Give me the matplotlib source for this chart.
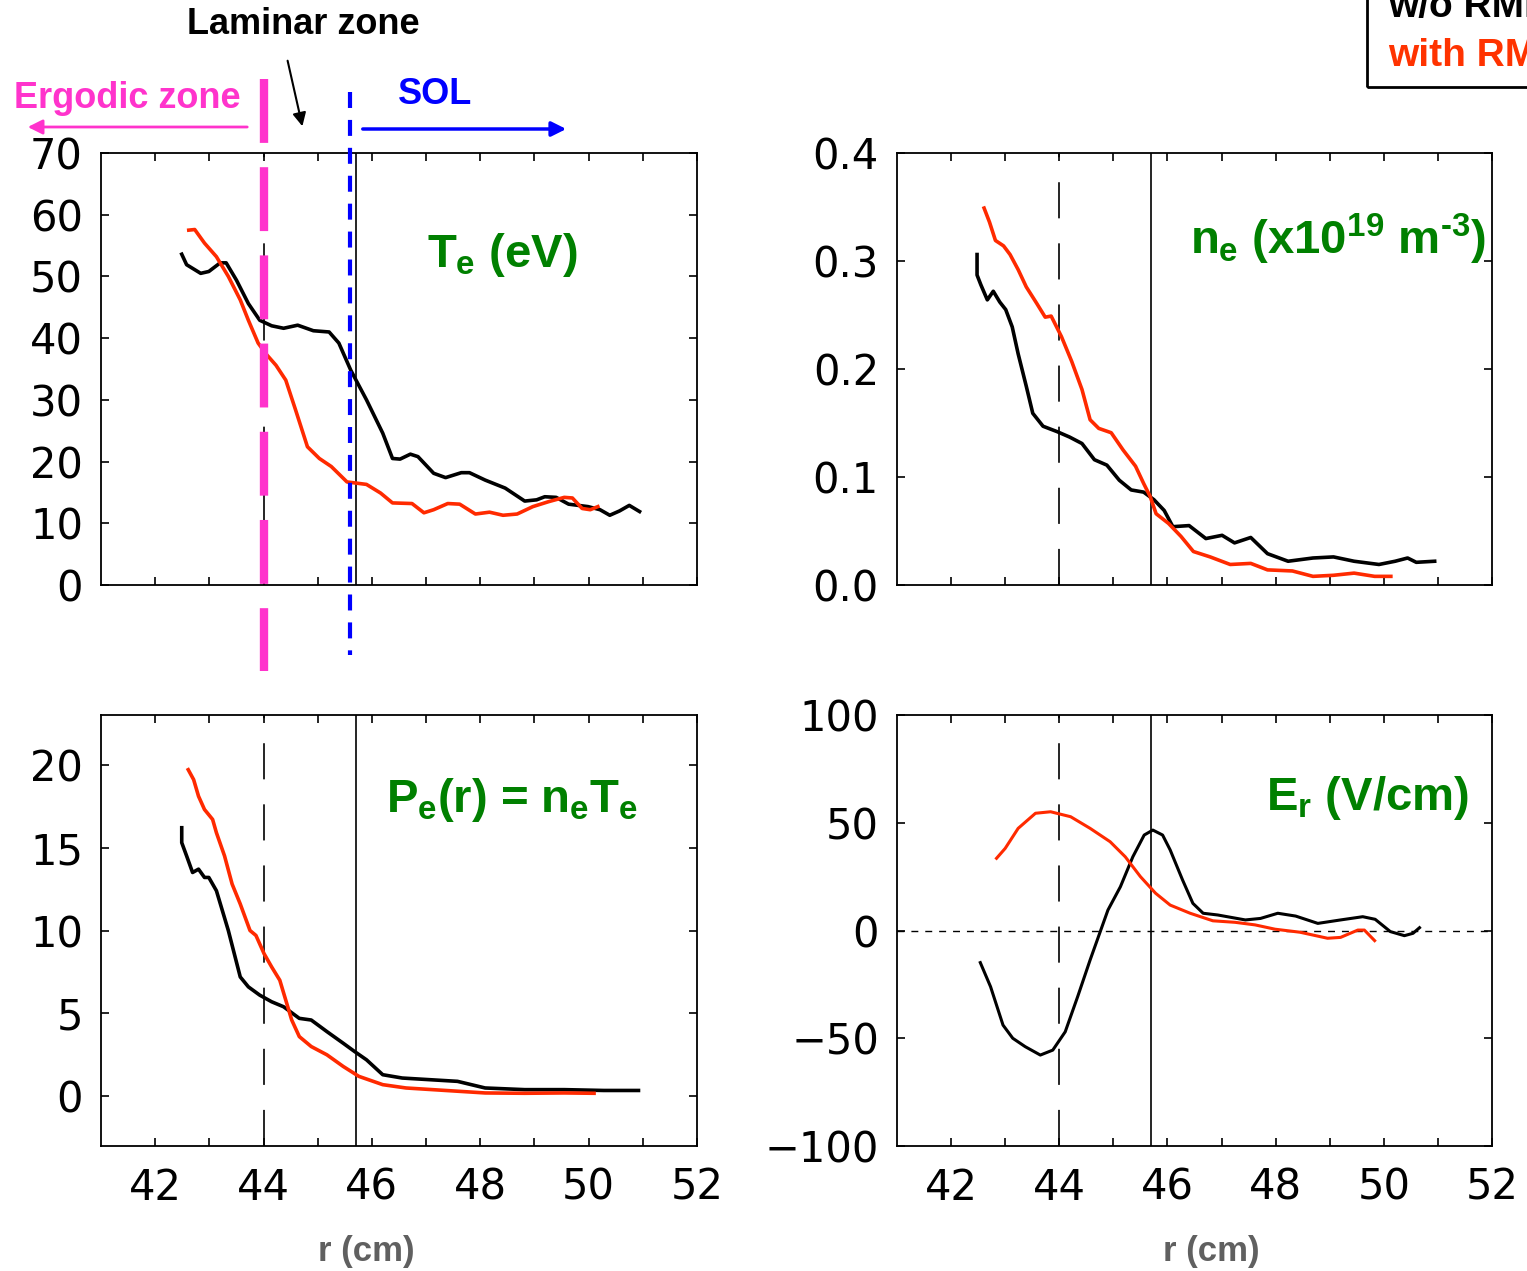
import matplotlib.pyplot as plt
import matplotlib.transforms as mtransforms
from matplotlib.lines import Line2D
from matplotlib.patches import Rectangle, FancyArrowPatch

plt.rcParams['font.family'] = ['DejaVu Sans']
plt.rcParams['mathtext.fontset'] = 'custom'
plt.rcParams['mathtext.rm'] = 'Liberation Sans:bold'
plt.rcParams['mathtext.it'] = 'Liberation Sans:bold'
plt.rcParams['mathtext.bf'] = 'Liberation Sans:bold'
plt.rcParams['lines.scale_dashes'] = False

# radial positions of the zone boundaries (cm)
ergodic_edge = 44.0
separatrix = 45.7
sol_edge = 45.6

# electron temperature (eV)
te_r_wo = [42.49, 42.58, 42.84, 42.99, 43.20, 43.31, 43.50, 43.72, 43.93, 44.15, 44.37, 44.63,
           44.92, 45.21, 45.39, 45.61, 45.90, 46.20, 46.38, 46.52, 46.71, 46.85, 47.14, 47.36,
           47.65, 47.80, 48.09, 48.46, 48.82, 49.04, 49.19, 49.40, 49.63, 49.99, 50.21, 50.39,
           50.57, 50.75, 50.94]
te_wo = [53.6, 51.9, 50.5, 50.8, 52.2, 52.2, 49.4, 45.6, 42.9, 42.0, 41.6, 42.1,
         41.2, 41.0, 39.2, 34.8, 30.0, 24.6, 20.5, 20.4, 21.2, 20.8, 18.1, 17.4,
         18.2, 18.2, 17.0, 15.7, 13.6, 13.8, 14.3, 14.2, 13.1, 12.7, 12.2, 11.3,
         12.0, 12.9, 11.9]
te_r_with = [42.62, 42.73, 42.91, 43.13, 43.35, 43.57, 43.72, 43.90, 44.04, 44.23, 44.41, 44.59,
             44.81, 45.03, 45.25, 45.54, 45.90, 46.16, 46.38, 46.74, 46.96, 47.14, 47.40, 47.62,
             47.91, 48.17, 48.42, 48.68, 48.97, 49.26, 49.55, 49.70, 49.88, 50.03, 50.17]
te_with = [57.5, 57.6, 55.4, 53.2, 50.0, 46.2, 42.9, 39.2, 37.5, 35.6, 33.2, 28.4,
           22.4, 20.5, 19.2, 16.7, 16.3, 14.9, 13.3, 13.2, 11.7, 12.2, 13.2, 13.1,
           11.5, 11.8, 11.3, 11.5, 12.7, 13.5, 14.2, 14.1, 12.4, 12.2, 12.7]

# electron density (1e19 m^-3)
ne_r_wo = [42.48, 42.48, 42.55, 42.67, 42.78, 42.90, 43.01, 43.13, 43.24, 43.39, 43.51, 43.70,
           43.96, 44.19, 44.42, 44.65, 44.88, 45.11, 45.33, 45.56, 45.75, 45.94, 46.10, 46.40,
           46.71, 47.01, 47.24, 47.54, 47.85, 48.23, 48.69, 49.07, 49.45, 49.91, 50.21, 50.44,
           50.60, 50.94]
ne_wo = [0.306, 0.287, 0.278, 0.264, 0.272, 0.262, 0.255, 0.239, 0.214, 0.184, 0.159, 0.147,
         0.142, 0.137, 0.131, 0.116, 0.111, 0.097, 0.088, 0.086, 0.079, 0.069, 0.054, 0.055,
         0.043, 0.046, 0.039, 0.044, 0.029, 0.022, 0.025, 0.026, 0.022, 0.019, 0.022, 0.025,
         0.021, 0.022]
ne_r_with = [42.61, 42.71, 42.82, 42.97, 43.09, 43.24, 43.39, 43.58, 43.74, 43.85, 44.04, 44.23,
             44.42, 44.57, 44.73, 44.96, 45.18, 45.41, 45.56, 45.68, 45.79, 46.02, 46.25, 46.48,
             46.79, 47.16, 47.54, 47.85, 48.31, 48.69, 49.07, 49.45, 49.83, 50.13]
ne_with = [0.349, 0.336, 0.319, 0.314, 0.306, 0.292, 0.276, 0.261, 0.248, 0.249, 0.230, 0.207,
           0.181, 0.153, 0.145, 0.141, 0.125, 0.110, 0.094, 0.082, 0.066, 0.057, 0.045, 0.031,
           0.026, 0.019, 0.020, 0.014, 0.013, 0.008, 0.009, 0.011, 0.008, 0.008]

# electron pressure
pe_r_wo = [42.49, 42.49, 42.58, 42.69, 42.80, 42.91, 42.99, 43.13, 43.24, 43.35, 43.46, 43.57,
           43.72, 43.93, 44.15, 44.37, 44.66, 44.88, 45.17, 45.47, 45.68, 45.90, 46.20, 46.56,
           47.07, 47.58, 48.09, 48.82, 49.55, 50.28, 50.92]
pe_wo = [16.2, 15.3, 14.5, 13.5, 13.7, 13.2, 13.2, 12.4, 11.2, 10.0, 8.6, 7.2,
         6.6, 6.1, 5.7, 5.4, 4.7, 4.6, 3.9, 3.2, 2.7, 2.2, 1.3, 1.1,
         1.0, 0.9, 0.5, 0.4, 0.4, 0.35, 0.35]
pe_r_with = [42.61, 42.71, 42.80, 42.91, 43.06, 43.13, 43.28, 43.42, 43.57, 43.75, 43.86, 44.01,
             44.15, 44.30, 44.41, 44.52, 44.66, 44.88, 45.17, 45.47, 45.76, 46.20, 46.63, 47.36,
             48.09, 48.82, 49.55, 50.10]
pe_with = [19.7, 19.1, 18.1, 17.3, 16.7, 15.9, 14.5, 12.8, 11.6, 10.0, 9.7, 8.6,
           7.8, 7.0, 5.8, 4.6, 3.6, 3.0, 2.5, 1.8, 1.2, 0.7, 0.5, 0.35,
           0.2, 0.18, 0.2, 0.18]

# radial electric field (V/cm)
er_r_wo = [42.54, 42.73, 42.96, 43.14, 43.37, 43.65, 43.88, 44.11, 44.34, 44.57, 44.90, 45.13,
           45.36, 45.57, 45.73, 45.91, 46.05, 46.28, 46.47, 46.66, 46.93, 47.44, 47.72, 48.04,
           48.37, 48.78, 49.20, 49.61, 49.84, 50.12, 50.38, 50.54, 50.66]
er_wo = [-14.9, -26.1, -43.9, -50.0, -53.9, -57.8, -55.5, -47.0, -30.7, -13.7, 9.5, 20.3,
         34.2, 44.3, 46.6, 44.3, 37.4, 23.4, 12.6, 8.0, 7.2, 4.9, 5.6, 8.0,
         6.7, 3.3, 4.9, 6.4, 5.2, -0.5, -2.4, -1.3, 1.3]
er_r_with = [42.84, 43.00, 43.24, 43.56, 43.84, 44.21, 44.57, 44.94, 45.22, 45.50, 45.78, 46.05,
             46.42, 46.84, 47.25, 47.62, 47.99, 48.45, 48.96, 49.20, 49.52, 49.64, 49.83]
er_with = [33.5, 38.1, 47.4, 54.4, 55.1, 52.8, 47.4, 41.2, 34.2, 25.0, 17.3, 11.8,
           8.0, 4.5, 3.8, 2.6, 0.6, -0.8, -3.6, -3.2, 0.2, 0.2, -4.7]

W, H = 1527, 1271
GREEN = '#008000'
RED = '#ff2a00'
MAGENTA = '#ff33cc'

fig = plt.figure(figsize=(W / 100, H / 100), dpi=100)
ax_te = fig.add_axes([101 / W, 1 - 585 / H, 596 / W, 432 / H])
ax_ne = fig.add_axes([897 / W, 1 - 585 / H, 595 / W, 432 / H])
ax_pe = fig.add_axes([101 / W, 1 - 1146 / H, 596 / W, 431 / H])
ax_er = fig.add_axes([897 / W, 1 - 1146 / H, 595 / W, 431 / H])


def style(ax, ylim, yticks, ylabels, show_x):
    ax.set_xlim(41, 52)
    ax.set_ylim(*ylim)
    ax.set_xticks(range(42, 53, 2))
    ax.set_xticks(range(43, 52, 2), minor=True)
    ax.set_yticks(yticks)
    ax.set_yticklabels(ylabels)
    ax.tick_params(which='both', direction='in', top=True, right=True,
                   length=6, width=1.2, labelsize=30)
    ax.tick_params(axis='y', pad=13)
    ax.tick_params(axis='x', pad=15)
    if not show_x:
        ax.set_xticklabels([])
    for s in ax.spines.values():
        s.set_linewidth(1.3)
    ax.axvline(ergodic_edge, color='k', lw=1.2, dashes=(26, 18))
    ax.axvline(separatrix, color='k', lw=1.2)


style(ax_te, (0, 70), range(0, 71, 10), [str(v) for v in range(0, 71, 10)], False)
style(ax_ne, (0, 0.4), [0, 0.1, 0.2, 0.3, 0.4], ['0.0', '0.1', '0.2', '0.3', '0.4'], False)
style(ax_pe, (-3, 23), range(0, 21, 5), [str(v) for v in range(0, 21, 5)], True)
style(ax_er, (-100, 100), [-100, -50, 0, 50, 100], ['\u2212100', '\u221250', '0', '50', '100'], True)

ax_te.plot(te_r_wo, te_wo, color='k', lw=2.6)
ax_te.plot(te_r_with, te_with, color=RED, lw=2.6)
ax_ne.plot(ne_r_wo, ne_wo, color='k', lw=2.6)
ax_ne.plot(ne_r_with, ne_with, color=RED, lw=2.6)
ax_pe.plot(pe_r_wo, pe_wo, color='k', lw=2.6)
ax_pe.plot(pe_r_with, pe_with, color=RED, lw=2.6)
ax_er.axhline(0, color='k', lw=1.0, dashes=(5, 5))
ax_er.plot(er_r_wo, er_wo, color='k', lw=2.2)
ax_er.plot(er_r_with, er_with, color=RED, lw=2.2)

lab = dict(color=GREEN, fontsize=34, family='Liberation Sans', fontweight='bold',
           ha='center', va='center')
ax_te.text(0.674, 0.764, '$T_e$ (eV)', transform=ax_te.transAxes, **lab)
ax_ne.text(0.742, 0.80, r'$n_e$ (x10$^{19}$ m$^{\text{-}3}$)', transform=ax_ne.transAxes, **lab)
ax_pe.text(0.69, 0.803, '$P_e$(r) = $n_eT_e$', transform=ax_pe.transAxes, **lab)
ax_er.text(0.79, 0.807, '$E_r$ (V/cm)', transform=ax_er.transAxes, **lab)

for x in (366, 1211):
    fig.text(x / W, 1 - 1251 / H, 'r (cm)', ha='center', va='center', fontsize=25,
             family='Liberation Sans', fontweight='bold', color='#606060')

# zone boundaries drawn across the top panel and above it
trans = mtransforms.blended_transform_factory(ax_te.transData, fig.transFigure)
fig.add_artist(Line2D([ergodic_edge, ergodic_edge], [1 - 79 / H, 1 - 671 / H], transform=trans,
                      color=MAGENTA, lw=6, dashes=(46, 17.5)))
fig.add_artist(Line2D([sol_edge, sol_edge], [1 - 92 / H, 1 - 655 / H], transform=trans,
                      color='#0000ff', lw=3, dashes=(11.5, 8.6)))

txt = dict(fontsize=26, family='Liberation Sans', fontweight='bold', ha='center', va='center')
fig.text(303 / W, 1 - 24 / H, 'Laminar zone', color='k', **txt)
fig.text(127 / W, 1 - 98 / H, 'Ergodic zone', color=MAGENTA, **txt)
fig.text(435 / W, 1 - 95 / H, 'SOL', color='#0000ff', **txt)

fig.add_artist(FancyArrowPatch((250 / W, 1 - 127 / H), (25 / W, 1 - 127 / H),
                               transform=fig.transFigure, arrowstyle='-|>',
                               mutation_scale=22, color=MAGENTA, lw=2))
fig.add_artist(FancyArrowPatch((360 / W, 1 - 129 / H), (569 / W, 1 - 129 / H),
                               transform=fig.transFigure, arrowstyle='-|>',
                               mutation_scale=22, color='#0000ff', lw=2.5))
fig.add_artist(FancyArrowPatch((287 / W, 1 - 58 / H), (303 / W, 1 - 129 / H),
                               transform=fig.transFigure, arrowstyle='-|>',
                               mutation_scale=20, color='k', lw=1.5))

# legend box (runs off the figure edge, as in the original slide)
fig.add_artist(Rectangle((1367 / W, 1 - 87 / H), 0.2, 0.2, transform=fig.transFigure,
                         fill=False, ec='k', lw=2))
fig.text(1388 / W, 1 - 17 / H, 'w/o RMP', color='k', fontsize=28, family='Liberation Sans',
         fontweight='bold', va='baseline')
fig.text(1388 / W, 1 - 66 / H, 'with RMP', color='#ff3300', fontsize=28, family='Liberation Sans',
         fontweight='bold', va='baseline')

fig.savefig('out.png', dpi=100)
